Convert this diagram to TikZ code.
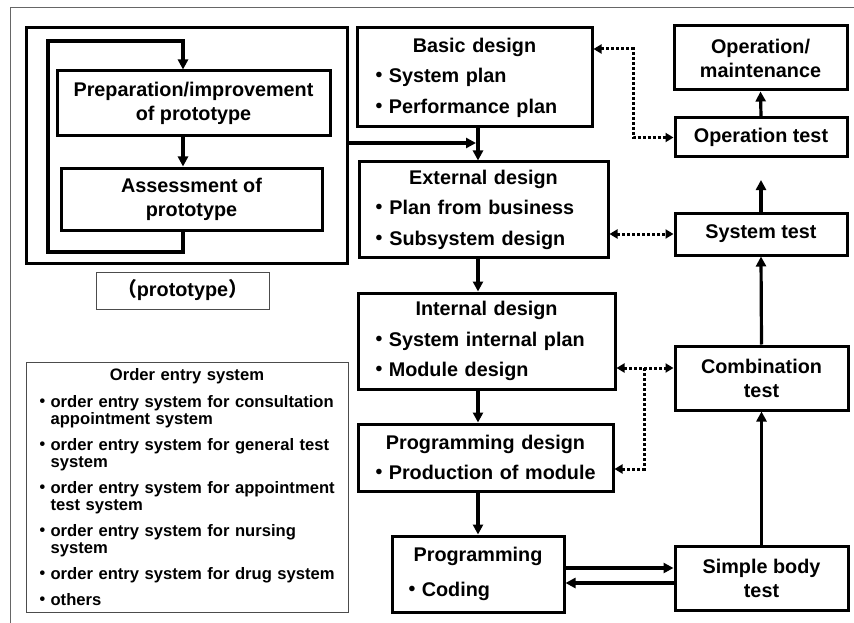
\documentclass[tikz,border=0pt]{standalone}
\usepackage{fontspec}
\setmainfont{Liberation Sans}
\newfontfamily\cjk{Noto Sans CJK SC}
\usetikzlibrary{arrows.meta,calc,positioning}
\newcommand{\bul}{{\cjk ・}}
\newcommand{\head}[1]{\makebox[\linewidth]{#1}}
\tikzset{>={Triangle[length=10pt,width=10pt]},
	stage/.style={% Thick phase boxes: centred title, bullet lines below
		draw, rectangle,
		line width=3pt,
		inner ysep=0pt,
		align=left,
		font=\fontsize{19.8}{30.5}\selectfont\bfseries
	},
	phase/.style={% Thick boxes with centred text
		draw, rectangle,
		line width=3pt,
		inner sep=0pt,
		align=center,
		font=\fontsize{19.8}{24}\selectfont\bfseries
	},
	note/.style={
		draw=black!70, rectangle,
		line width=1pt,
		inner ysep=0pt
	},
	mainflow/.style={line width=3.2pt},
	feedback/.style={line width=3pt, dash pattern=on 3pt off 2pt,
		>={Triangle[length=8pt,width=9pt]}}
}

\begin{document}
\begin{tikzpicture}[x=1pt,y=-1pt]
			\useasboundingbox[fill=white] (0,0) rectangle (854,623);
			\draw [black!60, line width=1pt] (854,8) -- (10,8) -- (10,623);
			% prototype loop
			\node [draw, line width=3pt, minimum width=321pt, minimum height=235pt] (protoframe) at (186.5,145.5) {};
			\node [phase, minimum width=273pt, minimum height=65pt] (prep) at (193.5,103.5) {Preparation/improvement\\of prototype};
			\node [phase, minimum width=261pt, minimum height=62pt] (assess) at (191.5,199) {Assessment of\\prototype};
			\node [note, minimum width=173pt, minimum height=37pt, font=\fontsize{19.8}{24}\selectfont\bfseries] (protolabel) at (182.5,290.5) {{\cjk （}prototype{\cjk ）}};
			\coordinate (loopNE) at (183,41);
			\coordinate (loopNW) at (48,41);
			\coordinate (loopSW) at (48,252);
			\coordinate (loopSE) at (183,252);
			\draw [mainflow, ->] (assess.south -| loopSE) -- (loopSE) -- (loopSW) -- (loopNW) -- (loopNE) -- (prep.north -| loopNE);
			\draw [mainflow, ->] (prep.south -| loopNE) -- (assess.north -| loopNE);
			% order entry list
			\node [note, minimum width=322pt, minimum height=250pt, text width=306pt, inner xsep=8pt, align=left,
				font=\fontsize{16.6}{17}\selectfont\bfseries] (orders) at (187,487) {\head{Order entry system}\\[10pt]
				\bul order entry system for consultation\\\phantom{\bul}appointment system\\[9pt]
				\bul order entry system for general test\\\phantom{\bul}system\\[9pt]
				\bul order entry system for appointment\\\phantom{\bul}test system\\[9pt]
				\bul order entry system for nursing\\\phantom{\bul}system\\[9pt]
				\bul order entry system for drug system\\[9pt]
				\bul others};
			% design phases
			\node [stage, minimum width=235pt, minimum height=99pt, text width=211pt, inner xsep=12pt] (basic) at (474.5,77.5) {\head{Basic design}\\\bul System plan\\\bul Performance plan};
			\node [stage, minimum width=249pt, minimum height=95pt, text width=228pt, inner xsep=10.5pt] (external) at (483.5,209.5) {\head{External design}\\\bul Plan from business\\\bul Subsystem design};
			\node [stage, minimum width=257pt, minimum height=96pt, text width=235pt, inner xsep=11pt] (internal) at (486.5,341) {\head{Internal design}\\\bul System internal plan\\\bul Module design};
			\node [stage, minimum width=255pt, minimum height=67pt, text width=233pt, inner xsep=11pt] (progdesign) at (485.5,457.5) {\head{Programming design}\\\bul Production of module};
			\node [stage, minimum width=172pt, minimum height=76pt, text width=152pt, inner xsep=10pt] (programming) at (478,574) {\head{Programming}\\[4.5pt]\bul Coding};
			% test phases
			\node [phase, minimum width=173pt, minimum height=64pt] (opmaint) at (760.5,58) {Operation/\\maintenance};
			\node [phase, minimum width=172pt, minimum height=39pt] (optest) at (761,137.5) {Operation test};
			\node [phase, minimum width=172pt, minimum height=42pt] (systest) at (761,234) {System test};
			\node [phase, minimum width=173pt, minimum height=64pt] (combo) at (761.5,378) {Combination\\test};
			\node [phase, minimum width=173pt, minimum height=64pt] (simple) at (761.5,578) {Simple body\\test};
			% solid flow
			\coordinate (spine) at (478,0);
			\coordinate (merge) at (476,143);
			\draw [mainflow, ->] (basic.south -| spine) -- (external.north -| spine);
			\draw [mainflow, ->] (merge -| protoframe.east) -- (merge);
			\draw [mainflow, ->] (external.south -| spine) -- (internal.north -| spine);
			\draw [mainflow, ->] (internal.south -| spine) -- (progdesign.north -| spine);
			\draw [mainflow, ->] (progdesign.south -| spine) -- (programming.north -| spine);
			\coordinate (codeout) at (0,568);
			\coordinate (codeback) at (0,583);
			\draw [mainflow, ->] (programming.east |- codeout) -- (simple.west |- codeout);
			\draw [mainflow, ->] (simple.west |- codeback) -- (programming.east |- codeback);
			\draw [mainflow, ->] (simple.north) -- (combo.south);
			\draw [mainflow, ->] (combo.north) -- (systest.south);
			\coordinate (sysup) at (761,180);
			\draw [mainflow, ->] (systest.north) -- (sysup);
			\draw [mainflow, ->] (optest.north) -- (opmaint.south);
			% dotted feedback
			\coordinate (fbA) at (633,49);
			\coordinate (fbB) at (633,137.5);
			\draw [feedback, <->] (basic.east |- fbA) -- (fbA) -- (fbB) -- (optest.west |- fbB);
			\draw [feedback, <->] (external.east |- systest) -- (systest.west);
			\coordinate (fbC) at (644,368);
			\coordinate (fbD) at (644,469);
			\draw [feedback, <->] (internal.east |- fbC) -- (combo.west |- fbC);
			\draw [feedback, ->] (fbC) -- (fbD) -- (progdesign.east |- fbD);
\end{tikzpicture}
\end{document}
